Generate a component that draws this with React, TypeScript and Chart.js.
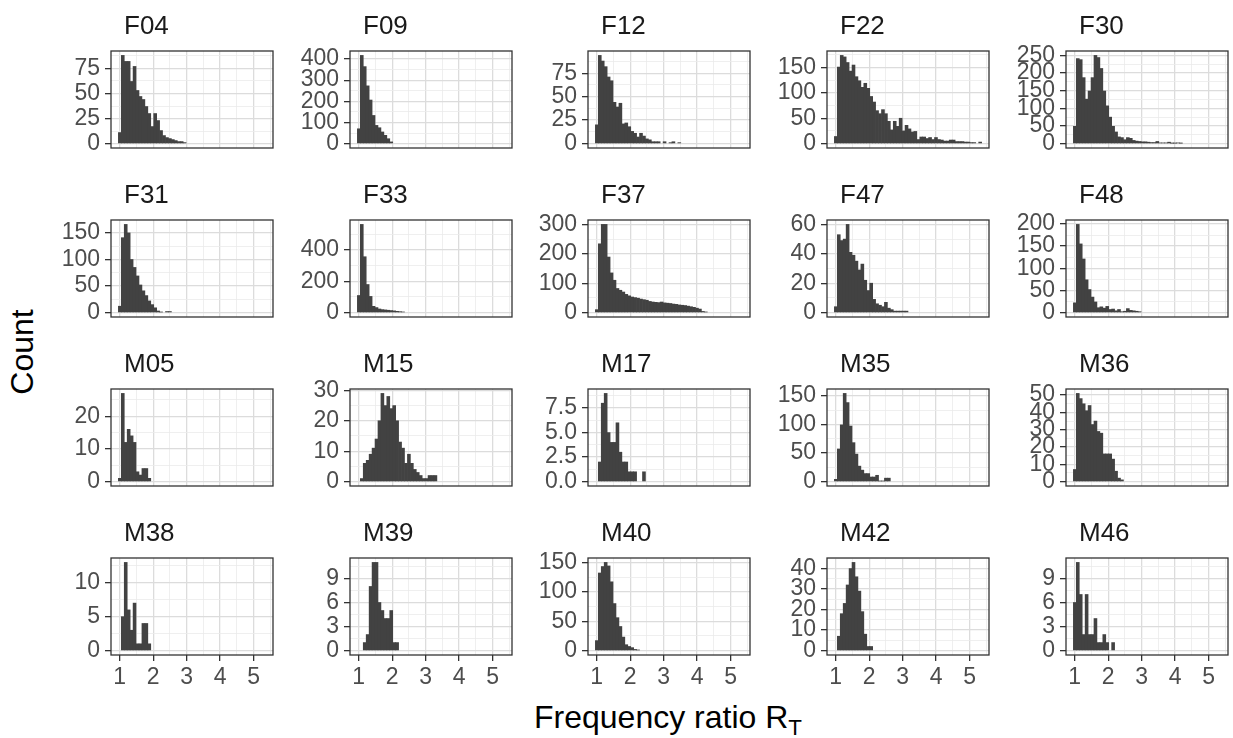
import React, { useEffect, useRef } from 'react';
import { Chart, registerables } from 'chart.js';

Chart.register(...registerables);

// ---- histogram bins (shared by every panel) ----
const BIN_START = 0.96;
const BIN_WIDTH = 0.088;
const BIN_TOTAL = 50;

// ---- x-axis ticks (shared) ----
const xTickValues = [1, 2, 3, 4, 5];
const xTickLabels = ['1', '2', '3', '4', '5'];

// ---- panel names ----
const panelNames = [
  'F04', 'F09', 'F12', 'F22', 'F30',
  'F31', 'F33', 'F37', 'F47', 'F48',
  'M05', 'M15', 'M17', 'M35', 'M36',
  'M38', 'M39', 'M40', 'M42', 'M46',
];

// ---- counts per bin (bin i covers BIN_START + i*BIN_WIDTH ...) ----
const F04 = [11, 88, 82, 82, 62, 77, 53, 47, 44, 37, 30, 17, 30, 23, 13, 8, 6, 5, 4, 3, 2, 2, 1];
const F09 = [70, 417, 364, 273, 206, 133, 86, 75, 55, 39, 23, 8];
const F12 = [20, 94, 88, 82, 71, 67, 44, 39, 43, 21, 22, 18, 13, 11, 7, 11, 8, 5, 4, 2, 2, 2, 0, 2, 0, 1, 2, 0, 1];
const F22 = [14, 151, 174, 171, 160, 143, 155, 132, 124, 111, 119, 109, 93, 82, 65, 59, 67, 59, 44, 27, 44, 34, 50, 25, 36, 29, 23, 24, 8, 13, 13, 10, 12, 8, 12, 8, 7, 5, 5, 7, 7, 4, 4, 4, 3, 3, 2, 2, 0, 3];
const F30 = [49, 241, 238, 187, 126, 149, 187, 250, 244, 213, 149, 107, 75, 49, 33, 19, 17, 11, 17, 15, 9, 7, 6, 5, 5, 4, 3, 3, 6, 2, 2, 2, 4, 1, 1, 2, 1];
const F31 = [12, 141, 166, 150, 100, 85, 69, 52, 41, 32, 22, 15, 9, 3, 1, 0, 2, 2];
const F33 = [109, 562, 356, 179, 103, 40, 32, 23, 19, 17, 15, 13, 11, 8, 6, 4];
const F37 = [10, 234, 300, 300, 189, 135, 110, 82, 76, 70, 62, 57, 53, 51, 49, 46, 44, 42, 38, 36, 35, 34, 36, 33, 32, 31, 29, 28, 26, 25, 24, 22, 20, 18, 15, 12, 4, 2];
const F47 = [4, 53, 49, 50, 60, 41, 39, 35, 29, 33, 22, 15, 20, 9, 6, 5, 4, 7, 3, 2, 1, 1, 1, 1, 1];
const F48 = [22, 199, 155, 121, 74, 52, 35, 24, 11, 13, 10, 14, 7, 8, 4, 7, 2, 3, 9, 5, 4, 3, 2];
const M05 = [1, 27, 12, 16, 14, 12, 3, 2, 4, 4, 1];
const M15 = [0, 1, 6, 7, 9, 11, 14, 20, 29, 25, 28, 24, 25, 20, 13, 11, 6, 9, 6, 4, 3, 2, 1, 1, 2, 2, 2];
const M17 = [0, 2, 8, 9, 5, 4, 4, 6, 3, 2, 2, 1, 1, 1, 0, 0, 1];
const M35 = [4, 57, 99, 154, 138, 97, 68, 48, 27, 20, 14, 14, 8, 8, 11, 1, 1, 6, 6];
const M36 = [7, 51, 48, 45, 41, 44, 33, 35, 29, 28, 16, 16, 16, 13, 6, 2, 1];
const M38 = [0, 5, 13, 6, 3, 7, 1, 1, 4, 4, 1];
const M39 = [0, 0, 1, 2, 8, 11, 11, 6, 5, 4, 4, 5, 1, 1];
const M40 = [17, 132, 143, 150, 144, 117, 80, 56, 41, 23, 10, 7, 5, 2, 1];
const M42 = [0, 7, 18, 23, 32, 40, 43, 36, 29, 19, 8, 2, 2];
const M46 = [6, 11, 7, 2, 7, 2, 2, 4, 1, 1, 2, 1, 0, 1];

const panelCounts = [
  F04, F09, F12, F22, F30,
  F31, F33, F37, F47, F48,
  M05, M15, M17, M35, M36,
  M38, M39, M40, M42, M46,
];

// ---- y tick values per panel ----
const yTicksF04 = [0, 25, 50, 75];
const yTicksF09 = [0, 100, 200, 300, 400];
const yTicksF12 = [0, 25, 50, 75];
const yTicksF22 = [0, 50, 100, 150];
const yTicksF30 = [0, 50, 100, 150, 200, 250];
const yTicksF31 = [0, 50, 100, 150];
const yTicksF33 = [0, 200, 400];
const yTicksF37 = [0, 100, 200, 300];
const yTicksF47 = [0, 20, 40, 60];
const yTicksF48 = [0, 50, 100, 150, 200];
const yTicksM05 = [0, 10, 20];
const yTicksM15 = [0, 10, 20, 30];
const yTicksM17 = [0, 2.5, 5, 7.5];
const yTicksM35 = [0, 50, 100, 150];
const yTicksM36 = [0, 10, 20, 30, 40, 50];
const yTicksM38 = [0, 5, 10];
const yTicksM39 = [0, 3, 6, 9];
const yTicksM40 = [0, 50, 100, 150];
const yTicksM42 = [0, 10, 20, 30, 40];
const yTicksM46 = [0, 3, 6, 9];

const panelYTicks = [
  yTicksF04, yTicksF09, yTicksF12, yTicksF22, yTicksF30,
  yTicksF31, yTicksF33, yTicksF37, yTicksF47, yTicksF48,
  yTicksM05, yTicksM15, yTicksM17, yTicksM35, yTicksM36,
  yTicksM38, yTicksM39, yTicksM40, yTicksM42, yTicksM46,
];

// ---- layout / style ----
const FONT = '"Liberation Sans", Arial, Helvetica, sans-serif';
const COL_LEFT = [111, 350, 588, 827, 1066];
const ROW_TOP = [51, 220, 389, 558];
const PW = 162;
const PH = 97;
const YW = 60;
const TH = 45;
const XH = 40;
const BAR_COLOR = '#424242';
const GRID_MAJOR = '#dcdcdc';
const GRID_MINOR = '#ebebeb';
const TICK_COLOR = '#333333';
const LABEL_COLOR = '#4d4d4d';

const near = (a: number, b: number) => Math.abs(a - b) < 1e-6;

function Panel({ index }: { index: number }) {
  const ref = useRef<HTMLCanvasElement>(null);
  const row = Math.floor(index / 5);
  const col = index % 5;
  const bottomRow = row === 3;
  const padBottom = bottomRow ? 0 : 14;
  const width = YW + PW + 1;
  const height = TH + PH + (bottomRow ? XH : 0) + padBottom;

  useEffect(() => {
    const canvas = ref.current;
    if (!canvas) return;
    const counts = panelCounts[index];
    const majorsY = panelYTicks[index];
    const maxC = Math.max(...counts);
    const yMin = -0.05 * maxC;
    const yMax = 1.05 * maxC;
    const binEnd = BIN_START + BIN_TOTAL * BIN_WIDTH;
    const span = binEnd - BIN_START;
    const xMin = BIN_START - 0.05 * span;
    const xMax = binEnd + 0.05 * span;

    const stepY = majorsY[1] - majorsY[0];
    const allY: number[] = [];
    for (let k = -1; k <= majorsY.length * 2 + 2; k++) {
      const v = majorsY[0] + (k * stepY) / 2;
      if (v >= yMin && v <= yMax) allY.push(v);
    }
    const stepX = xTickValues[1] - xTickValues[0];
    const allX: number[] = [];
    for (let k = -1; k <= xTickValues.length * 2 + 2; k++) {
      const v = xTickValues[0] + (k * stepX) / 2;
      if (v >= xMin && v <= xMax) allX.push(v);
    }
    const isMajorY = (v: number) => majorsY.some((m) => near(m, v));
    const isMajorX = (v: number) => xTickValues.some((m) => near(m, v));
    const decimals = majorsY.some((m) => !Number.isInteger(m)) ? 1 : 0;

    const data = counts.map((c, i) => ({
      x: BIN_START + (i + 0.5) * BIN_WIDTH,
      y: c === 0 ? null : c,
    }));

    const title = panelNames[index];
    const framePlugin = {
      id: 'panelFrame',
      afterDraw(chart: any) {
        const { ctx, chartArea: a } = chart;
        ctx.save();
        ctx.strokeStyle = TICK_COLOR;
        ctx.lineWidth = 1.3;
        ctx.strokeRect(a.left, a.top, a.right - a.left, a.bottom - a.top);
        ctx.fillStyle = '#1a1a1a';
        ctx.font = `26px ${FONT}`;
        ctx.textAlign = 'left';
        ctx.textBaseline = 'alphabetic';
        ctx.fillText(title, a.left + 13, a.top - 17);
        ctx.restore();
      },
    };

    const chart = new Chart(canvas, {
      type: 'bar',
      data: {
        datasets: [
          {
            data: data as any,
            backgroundColor: BAR_COLOR,
            borderWidth: 0,
            barPercentage: 1,
            categoryPercentage: 1,
          },
        ],
      },
      options: {
        responsive: false,
        animation: false,
        devicePixelRatio: 1,
        events: [],
        layout: { padding: { top: TH, right: 1, left: 0, bottom: padBottom } },
        plugins: {
          legend: { display: false },
          tooltip: { enabled: false },
          title: { display: false },
        },
        scales: {
          x: {
            type: 'linear',
            min: xMin,
            max: xMax,
            offset: false,
            afterBuildTicks: (s: any) => {
              s.ticks = allX.map((v) => ({ value: v }));
            },
            afterFit: (s: any) => {
              s.height = bottomRow ? XH : 0;
              s.paddingLeft = 0;
              s.paddingRight = 0;
            },
            ticks: {
              display: bottomRow,
              autoSkip: false,
              maxRotation: 0,
              minRotation: 0,
              padding: 3,
              color: LABEL_COLOR,
              font: { family: FONT, size: 23 },
              callback: (v: any) => {
                const i = xTickValues.findIndex((m) => near(m, Number(v)));
                return i >= 0 ? xTickLabels[i] : '';
              },
            },
            grid: {
              offset: false,
              drawTicks: bottomRow,
              tickLength: 6,
              color: (c: any) => (c.tick && isMajorX(c.tick.value) ? GRID_MAJOR : GRID_MINOR),
              lineWidth: (c: any) => (c.tick && isMajorX(c.tick.value) ? 1.3 : 0.8),
              tickColor: (c: any) => (c.tick && isMajorX(c.tick.value) ? TICK_COLOR : 'rgba(0,0,0,0)'),
              tickWidth: 1.3,
            },
            border: { display: false },
          } as any,
          y: {
            type: 'linear',
            min: yMin,
            max: yMax,
            afterBuildTicks: (s: any) => {
              s.ticks = allY.map((v) => ({ value: v }));
            },
            afterFit: (s: any) => {
              s.width = YW;
              s.paddingTop = 0;
              s.paddingBottom = 0;
            },
            ticks: {
              autoSkip: false,
              padding: 5,
              color: LABEL_COLOR,
              font: { family: FONT, size: 23 },
              callback: (v: any) => (isMajorY(Number(v)) ? Number(v).toFixed(decimals) : ''),
            },
            grid: {
              drawTicks: true,
              tickLength: 6,
              color: (c: any) => (c.tick && isMajorY(c.tick.value) ? GRID_MAJOR : GRID_MINOR),
              lineWidth: (c: any) => (c.tick && isMajorY(c.tick.value) ? 1.3 : 0.8),
              tickColor: (c: any) => (c.tick && isMajorY(c.tick.value) ? TICK_COLOR : 'rgba(0,0,0,0)'),
              tickWidth: 1.3,
            },
            border: { display: false },
          } as any,
        },
      },
      plugins: [framePlugin],
    });
    return () => chart.destroy();
  }, [index]);

  return (
    <canvas
      ref={ref}
      width={width}
      height={height}
      style={{
        position: 'absolute',
        left: COL_LEFT[col] - YW,
        top: ROW_TOP[row] - TH,
        width,
        height,
      }}
    />
  );
}

export default function App() {
  return (
    <div
      style={{
        position: 'absolute',
        left: 0,
        top: 0,
        width: 1233,
        height: 738,
        background: '#ffffff',
        fontFamily: FONT,
        overflow: 'hidden',
      }}
    >
      {panelNames.map((_, i) => (
        <Panel key={i} index={i} />
      ))}
      <div
        style={{
          position: 'absolute',
          left: 22,
          top: 352,
          transform: 'translate(-50%, -50%) rotate(-90deg)',
          fontSize: 32,
          color: '#000',
          whiteSpace: 'nowrap',
          lineHeight: 1,
        }}
      >
        Count
      </div>
      <div
        style={{
          position: 'absolute',
          left: 668,
          top: 717,
          transform: 'translate(-50%, -50%)',
          fontSize: 32,
          color: '#000',
          whiteSpace: 'nowrap',
          lineHeight: 1,
        }}
      >
        Frequency ratio R
        <span style={{ fontSize: '0.7em', position: 'relative', top: '0.3em' }}>T</span>
      </div>
    </div>
  );
}
